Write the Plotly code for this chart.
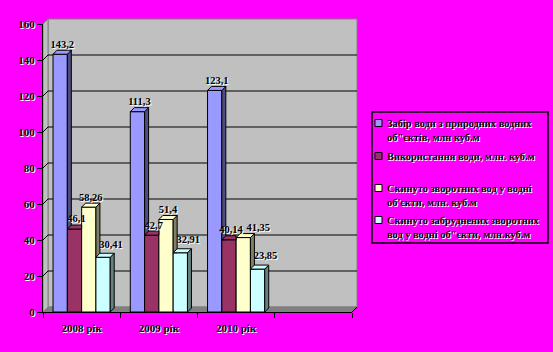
import plotly.graph_objects as go

years = ["2008 рік", "2009 рік", "2010 рік"]
legend_lines = [
    ["Забір води з природних водних", "об\"єктів, млн куб.м"],
    ["Використання води, млн. куб.м"],
    ["Скинуто зворотних вод у водні", "об'єкти, млн. куб.м"],
    ["Скинуто забруднених зворотних", "вод у водні об\"єкти, млн.куб.м"],
]
intake = [143.2, 111.3, 123.1]
usage = [46.1, 42.7, 40.14]
discharged = [58.26, 51.4, 41.35]
polluted = [30.41, 32.91, 23.85]
series_values = [intake, usage, discharged, polluted]
y_ticks = [0, 20, 40, 60, 80, 100, 120, 140, 160]

front_colors = ["#9999FF", "#993366", "#FFFFCC", "#CCFFFF"]
side_colors = ["#4D4D80", "#4D1A33", "#808066", "#668080"]
top_colors = ["#9999FF", "#993366", "#FFFFCC", "#CCFFFF"]
label_shift_px = [(0, 0), (0, 0), (0, 0), (6, 3)]  # style: per-series label nudge

BG = "#FF00FF"
FONT = "Liberation Serif"
SHADOW = "1px 1px 0px #FFFFFF"

# geometry (plot area 309 x 288 px, origin at px (43, 312))
L, B = 43, 312
plot_w, plot_h = 309, 288
n_cats = 4
bargap = 0.26
nser = len(series_values)
bw = (1 - bargap) / nser
px_per_x = plot_w / n_cats
px_per_y = plot_h / 160
ddx = 4 / px_per_x
ddy = 4 / px_per_y
dxp = 5 / plot_w
dyp = 5 / plot_h
LABEL_SIZE = 10.5
char_w = 0.5 * LABEL_SIZE


def pxp(px):
    return (px - L) / plot_w


def pyp(py):
    return (B - py) / plot_h


fig = go.Figure()

xs = list(range(len(years)))
for i, vals in enumerate(series_values):
    fig.add_trace(go.Bar(
        x=xs, y=vals, name=legend_lines[i][0], showlegend=False,
        marker=dict(color=front_colors[i], line=dict(color="black", width=1)),
    ))

# 3D faces, derived from the data values
for i, vals in enumerate(series_values):
    sx, sy, tx, ty = [], [], [], []
    for c, v in enumerate(vals):
        xl = c - (1 - bargap) / 2 + i * bw
        xr = xl + bw
        nxt = series_values[i + 1][c] if i + 1 < nser else 0
        if nxt < v:
            lo_l = max(nxt, 0)
            lo_r = max(nxt, ddy)
            sx += [xr, xr + ddx, xr + ddx, xr, xr, None]
            sy += [lo_l, lo_r, v + ddy, v, lo_l, None]
            tx += [xl, xr, xr + ddx, xl + ddx, xl, None]
            ty += [v, v, v + ddy, v + ddy, v, None]
        else:
            tx += [xl, xr, xr, xl + ddx, xl, None]
            ty += [v, v, v + ddy, v + ddy, v, None]
    fig.add_trace(go.Scatter(
        x=sx, y=sy, mode="lines", fill="toself", fillcolor=side_colors[i],
        line=dict(color="black", width=1), showlegend=False, hoverinfo="skip",
    ))
    fig.add_trace(go.Scatter(
        x=tx, y=ty, mode="lines", fill="toself", fillcolor=top_colors[i],
        line=dict(color="black", width=1), showlegend=False, hoverinfo="skip",
    ))

# data labels, with simple collision avoidance within each year group
label_x = [[0.0] * len(years) for _ in range(nser)]
label_y = [[0.0] * len(years) for _ in range(nser)]
label_t = [[""] * len(years) for _ in range(nser)]
for c in range(len(years)):
    prev = None
    for i in range(nser):
        v = series_values[i][c]
        t = f"{v:g}".replace(".", ",")
        x = c - (1 - bargap) / 2 + (i + 0.5) * bw + ddx / 2 + label_shift_px[i][0] / px_per_x
        y = v + ddy + label_shift_px[i][1] / px_per_y
        half = len(t) * char_w / 2 / px_per_x
        if prev is not None:
            px_, py_, ph_ = prev
            if abs(y - py_) * px_per_y < 11 and x - half < px_ + ph_:
                x = px_ + ph_ + half + 1 / px_per_x
        label_x[i][c], label_y[i][c], label_t[i][c] = x, y, t
        prev = (x, y, half)

for i in range(nser):
    fig.add_trace(go.Scatter(
        x=label_x[i], y=label_y[i], mode="text", text=label_t[i],
        textposition="top center", cliponaxis=False, showlegend=False, hoverinfo="skip",
        textfont=dict(family=FONT, size=LABEL_SIZE, color="black", weight="bold",
                      shadow=SHADOW),
    ))

shapes = []
# back wall
shapes.append(dict(type="rect", xref="paper", yref="paper", x0=dxp, x1=1 + dxp,
                   y0=dyp, y1=1 + dyp, fillcolor="#C0C0C0",
                   line=dict(color="#808080", width=1), layer="below"))
# side wall
shapes.append(dict(type="path", xref="paper", yref="paper",
                   path=f"M0,0 L{dxp},{dyp} L{dxp},{1 + dyp} L0,1 Z",
                   fillcolor="#C0C0C0", line=dict(color="#808080", width=1), layer="below"))
# floor
shapes.append(dict(type="path", xref="paper", yref="paper",
                   path=f"M0,0 L1,0 L{1 + dxp},{dyp} L{dxp},{dyp} Z",
                   fillcolor="#808080", line=dict(color="#808080", width=1), layer="below"))
shapes.append(dict(type="line", xref="paper", yref="paper", x0=1, y0=0,
                   x1=1 + dxp, y1=dyp, line=dict(color="black", width=1), layer="below"))
# gridlines
for t in y_ticks[1:-1]:
    yp = t / 160
    shapes.append(dict(type="line", xref="paper", yref="paper", x0=dxp, x1=1 + dxp,
                       y0=yp + dyp, y1=yp + dyp, line=dict(color="black", width=1),
                       layer="below"))
    shapes.append(dict(type="line", xref="paper", yref="paper", x0=0, x1=dxp,
                       y0=yp, y1=yp + dyp, line=dict(color="black", width=1),
                       layer="below"))

# legend (manual)
shapes.append(dict(type="rect", xref="paper", yref="paper",
                   x0=pxp(372), x1=pxp(548), y0=pyp(243), y1=pyp(112),
                   fillcolor=BG, line=dict(color="black", width=1.5)))
annotations = []
item_y = [123, 156, 188, 220]
line_h = 14.5
for i, lines in enumerate(legend_lines):
    cy = item_y[i]
    shapes.append(dict(type="rect", xref="paper", yref="paper",
                       x0=pxp(375), x1=pxp(382), y0=pyp(cy + 3.5), y1=pyp(cy - 3.5),
                       fillcolor=front_colors[i], line=dict(color="black", width=1)))
    for k, ln in enumerate(lines):
        annotations.append(dict(
            xref="paper", yref="paper", x=pxp(385), y=pyp(cy + k * line_h),
            xanchor="left", yanchor="middle", showarrow=False, text=ln,
            font=dict(family=FONT, size=10.4, color="black", weight="bold", shadow=SHADOW),
        ))

fig.update_layout(
    width=553, height=352,
    margin=dict(l=L, r=553 - L - plot_w, t=B - plot_h, b=352 - B, autoexpand=False),
    paper_bgcolor=BG, plot_bgcolor="rgba(0,0,0,0)",
    barmode="group", bargap=bargap, bargroupgap=0,
    shapes=shapes, annotations=annotations,
    showlegend=False,
    xaxis=dict(
        range=[-0.5, 3.5], tickvals=xs, ticktext=years, ticks="",
        ticklabelstandoff=6,
        showgrid=False, zeroline=False, showline=True, linecolor="black", linewidth=1,
        minor=dict(tickvals=[-0.5, 0.5, 1.5, 2.5, 3.5], ticks="outside", ticklen=5,
                   tickcolor="black", showgrid=False),
        tickfont=dict(family=FONT, size=11, color="black", weight="bold", shadow=SHADOW),
        fixedrange=True,
    ),
    yaxis=dict(
        range=[0, 160], tickvals=y_ticks, ticks="outside", ticklen=5, tickcolor="black",
        showgrid=False, zeroline=False, showline=True, linecolor="black", linewidth=1,
        tickfont=dict(family=FONT, size=11, color="black", weight="bold", shadow=SHADOW),
        fixedrange=True,
    ),
)

fig.write_html("out.html")
